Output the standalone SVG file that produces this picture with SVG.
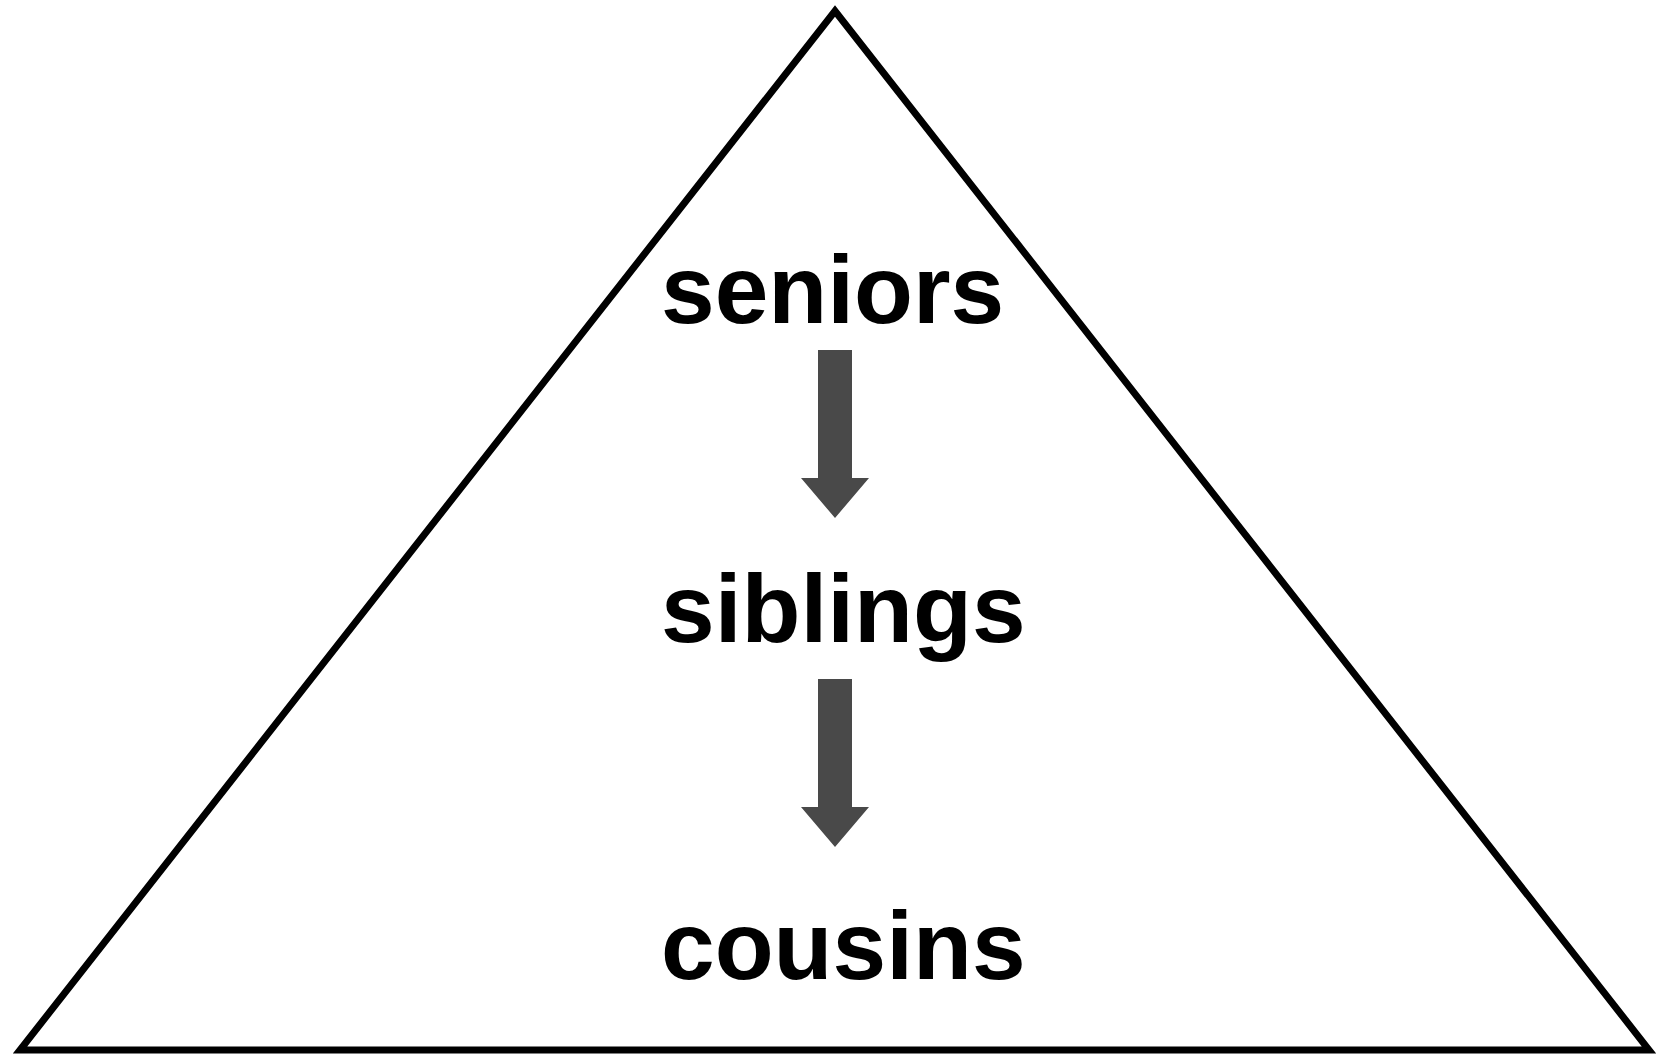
<svg xmlns="http://www.w3.org/2000/svg" width="1659" height="1054" viewBox="0 0 1659 1054">
  <style>
    .frame { fill: none; stroke: #000; stroke-width: 7; stroke-linejoin: miter; stroke-miterlimit: 20; }
    .label { font-family: "Liberation Sans", Arial, sans-serif; font-weight: bold; font-size: 96.5px; fill: #000; }
    .arrow { fill: #494949; }
  </style>
  <rect width="1659" height="1054" fill="#fff"/>
  <g id="pyramid">
    <polygon class="frame" points="835,11 20,1050 1649,1050"/>
  </g>
  <g id="seniors">
    <text class="label" x="661" y="323">seniors</text>
  </g>
  <g id="siblings">
    <text class="label" x="661" y="642">siblings</text>
  </g>
  <g id="cousins">
    <text class="label" x="661" y="979">cousins</text>
  </g>
  <g id="connectors">
    <polygon class="arrow" points="818,350 852,350 852,478 869,478 835,518 801,478 818,478"/>
    <polygon class="arrow" points="818,679 852,679 852,807 869,807 835,847 801,807 818,807"/>
  </g>
</svg>
